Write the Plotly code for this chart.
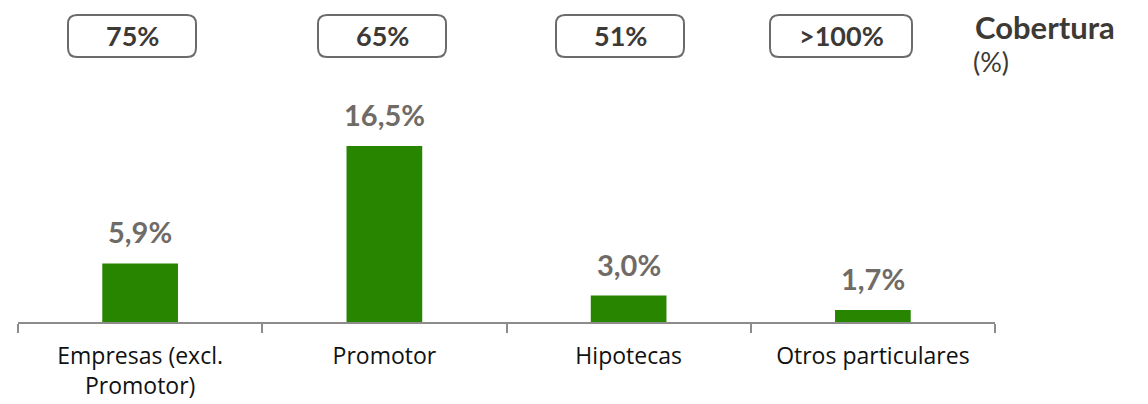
import plotly.graph_objects as go

categories = ["Empresas (excl.<br>Promotor)", "Promotor", "Hipotecas", "Otros particulares"]
values = [5.9, 16.5, 3.0, 1.7]
value_labels = ["5,9%", "16,5%", "3,0%", "1,7%"]
coverage = ["75%", "65%", "51%", ">100%"]

OFF = 8  # page body margin
W, H = 1148 - OFF, 404 - OFF
L, R, T, B = 18 - OFF, 153, 100 - OFF, 82
pw, ph = W - L - R, H - T - B

def px2x(px):
    return (px - OFF - L) / pw

def px2y(py):
    return (H - B - (py - OFF)) / ph

def rounded(x0, y0, x1, y1, r=9):
    rx, ry = r / pw, r / ph
    a, b, c, d = px2x(x0), px2y(y1), px2x(x1), px2y(y0)
    return (f"M {a+rx} {d} L {c-rx} {d} Q {c} {d} {c} {d-ry} "
            f"L {c} {b+ry} Q {c} {b} {c-rx} {b} L {a+rx} {b} "
            f"Q {a} {b} {a} {b+ry} L {a} {d-ry} Q {a} {d} {a+rx} {d} Z")

fig = go.Figure()
fig.add_trace(go.Bar(x=categories, y=values, marker_color="#288500",
                     marker_line_width=0, width=0.31, hoverinfo="skip"))

for c, v, t in zip(categories, values, value_labels):
    fig.add_annotation(x=c, y=v, text=t, showarrow=False, yanchor="bottom", yshift=12,
                       font=dict(family="Lato", size=29, color="#706b66", weight="bold"))

box_px = [(68, 196), (318, 446), (556, 684), (770, 912)]
for (x0, x1), t in zip(box_px, coverage):
    fig.add_shape(type="path", xref="paper", yref="paper", path=rounded(x0, 15, x1, 57),
                  line=dict(color="#6b6b6b", width=2), fillcolor="rgba(0,0,0,0)")
    fig.add_annotation(xref="paper", yref="paper", x=px2x((x0 + x1) / 2), y=px2y(35),
                       text=t, showarrow=False, xanchor="center", yanchor="middle",
                       font=dict(family="Lato", size=27, color="#3d3935", weight="bold"))

fig.add_annotation(xref="paper", yref="paper", x=px2x(973), y=px2y(27), text="<b>Cobertura</b>",
                   showarrow=False, xanchor="left", yanchor="middle",
                   font=dict(family="Lato", size=31, color="#3d3935"))
fig.add_annotation(xref="paper", yref="paper", x=px2x(971), y=px2y(61), text="(%)",
                   showarrow=False, xanchor="left", yanchor="middle",
                   font=dict(family="Lato", size=27, color="#3d3935"))

fig.update_layout(
    width=W, height=H, margin=dict(l=L, r=R, t=T, b=B, autoexpand=False),
    plot_bgcolor="white", paper_bgcolor="white", showlegend=False,
    xaxis=dict(type="category", showline=True, linecolor="#8c8c8c", linewidth=1.5,
               ticks="outside", tickson="boundaries", ticklen=9, tickcolor="#8c8c8c",
               tickwidth=1.5, showgrid=False, range=[-0.5, 3.5], ticklabelstandoff=13,
               automargin=False,
               tickfont=dict(family="Open Sans", size=23, color="#111111")),
    yaxis=dict(visible=False, range=[0.61, 0.61 + ph / 11.08]),
)

fig.write_html("out.html")
